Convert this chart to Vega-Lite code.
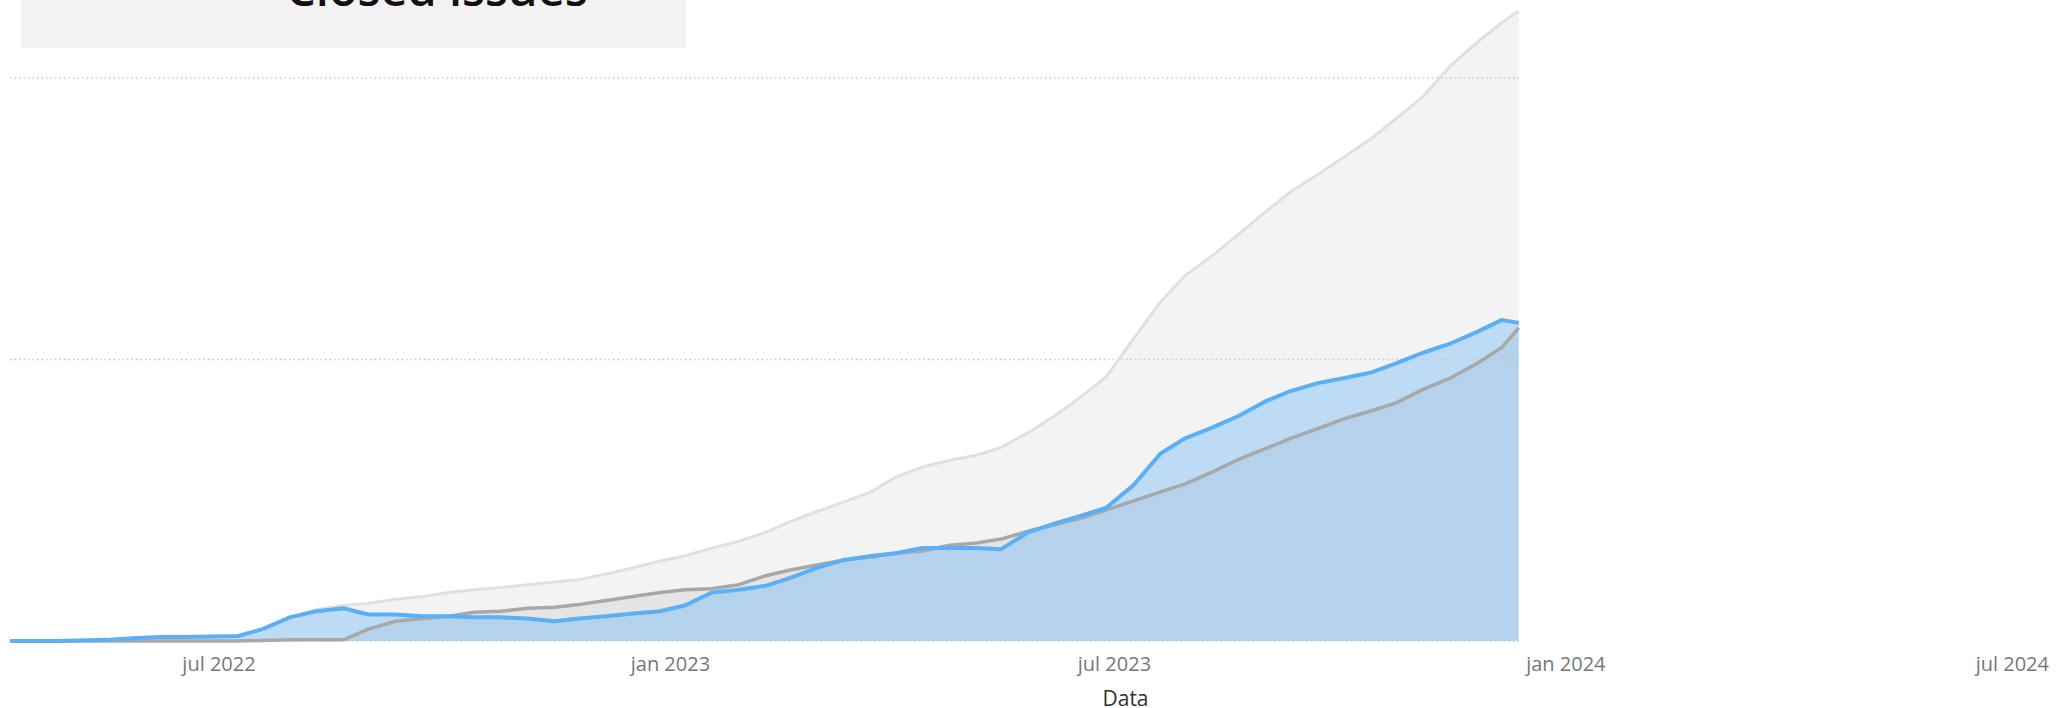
{
  "$schema": "https://vega.github.io/schema/vega-lite/v6.json",
  "width": 2046,
  "height": 641,
  "autosize": {"type": "none"},
  "padding": {"left": 10, "top": 0, "right": 0, "bottom": 67},
  "background": "white",
  "title": {
    "text": "Closed issues",
    "anchor": "start",
    "frame": "group",
    "dx": 276,
    "dy": 20,
    "fontSize": 47,
    "font": "Open Sans",
    "fontWeight": 600,
    "color": "#111111"
  },
  "config": {
    "view": {"stroke": null},
    "axisX": {
      "grid": false,
      "domain": false,
      "ticks": false,
      "labelFont": "Open Sans",
      "labelFontSize": 20,
      "labelColor": "#777777",
      "labelPadding": 13,
      "titleFont": "Open Sans",
      "titleFontSize": 21,
      "titleFontWeight": "normal",
      "titleColor": "#333333",
      "titlePadding": 14
    }
  },
  "data": {
    "values": [
      {"date": "2022-04-07", "opened": 0, "closed": 0, "resolved": 0},
      {"date": "2022-04-14", "opened": 0, "closed": 0, "resolved": 0},
      {"date": "2022-04-25", "opened": 0, "closed": 0, "resolved": 0},
      {"date": "2022-05-05", "opened": 0, "closed": 1, "resolved": 0},
      {"date": "2022-05-16", "opened": 2, "closed": 2, "resolved": 0},
      {"date": "2022-05-27", "opened": 2, "closed": 5, "resolved": 0},
      {"date": "2022-06-07", "opened": 3, "closed": 7, "resolved": 0},
      {"date": "2022-06-17", "opened": 5, "closed": 7, "resolved": 0},
      {"date": "2022-06-28", "opened": 7, "closed": 8, "resolved": 0},
      {"date": "2022-07-09", "opened": 9, "closed": 9, "resolved": 0},
      {"date": "2022-07-19", "opened": 19, "closed": 21, "resolved": 1},
      {"date": "2022-07-30", "opened": 42, "closed": 42, "resolved": 2},
      {"date": "2022-08-10", "opened": 56, "closed": 53, "resolved": 2},
      {"date": "2022-08-21", "opened": 63, "closed": 58, "resolved": 2},
      {"date": "2022-08-31", "opened": 67, "closed": 47, "resolved": 21},
      {"date": "2022-09-11", "opened": 74, "closed": 47, "resolved": 35},
      {"date": "2022-09-22", "opened": 79, "closed": 44, "resolved": 40},
      {"date": "2022-10-03", "opened": 86, "closed": 44, "resolved": 44},
      {"date": "2022-10-13", "opened": 91, "closed": 42, "resolved": 51},
      {"date": "2022-10-24", "opened": 95, "closed": 42, "resolved": 53},
      {"date": "2022-11-04", "opened": 100, "closed": 40, "resolved": 58},
      {"date": "2022-11-15", "opened": 105, "closed": 35, "resolved": 60},
      {"date": "2022-11-25", "opened": 109, "closed": 40, "resolved": 65},
      {"date": "2022-12-06", "opened": 119, "closed": 44, "resolved": 72},
      {"date": "2022-12-17", "opened": 130, "closed": 49, "resolved": 79},
      {"date": "2022-12-28", "opened": 142, "closed": 53, "resolved": 86},
      {"date": "2023-01-07", "opened": 151, "closed": 63, "resolved": 91},
      {"date": "2023-01-18", "opened": 165, "closed": 86, "resolved": 93},
      {"date": "2023-01-29", "opened": 177, "closed": 91, "resolved": 100},
      {"date": "2023-02-09", "opened": 193, "closed": 98, "resolved": 116},
      {"date": "2023-02-19", "opened": 212, "closed": 112, "resolved": 126},
      {"date": "2023-03-02", "opened": 230, "closed": 130, "resolved": 135},
      {"date": "2023-03-13", "opened": 247, "closed": 144, "resolved": 144},
      {"date": "2023-03-24", "opened": 265, "closed": 151, "resolved": 149},
      {"date": "2023-04-03", "opened": 291, "closed": 156, "resolved": 156},
      {"date": "2023-04-14", "opened": 309, "closed": 165, "resolved": 160},
      {"date": "2023-04-25", "opened": 321, "closed": 165, "resolved": 170},
      {"date": "2023-05-06", "opened": 330, "closed": 165, "resolved": 174},
      {"date": "2023-05-16", "opened": 344, "closed": 163, "resolved": 181},
      {"date": "2023-05-27", "opened": 370, "closed": 193, "resolved": 195},
      {"date": "2023-06-07", "opened": 400, "closed": 209, "resolved": 207},
      {"date": "2023-06-18", "opened": 435, "closed": 223, "resolved": 219},
      {"date": "2023-06-28", "opened": 470, "closed": 237, "resolved": 233},
      {"date": "2023-07-09", "opened": 537, "closed": 277, "resolved": 249},
      {"date": "2023-07-20", "opened": 602, "closed": 333, "resolved": 265},
      {"date": "2023-07-30", "opened": 649, "closed": 360, "resolved": 279},
      {"date": "2023-08-10", "opened": 684, "closed": 379, "resolved": 300},
      {"date": "2023-08-21", "opened": 723, "closed": 400, "resolved": 323},
      {"date": "2023-09-01", "opened": 763, "closed": 426, "resolved": 342},
      {"date": "2023-09-11", "opened": 798, "closed": 444, "resolved": 360},
      {"date": "2023-09-22", "opened": 828, "closed": 458, "resolved": 377},
      {"date": "2023-10-03", "opened": 860, "closed": 467, "resolved": 395},
      {"date": "2023-10-14", "opened": 893, "closed": 477, "resolved": 409},
      {"date": "2023-10-24", "opened": 928, "closed": 493, "resolved": 423},
      {"date": "2023-11-04", "opened": 967, "closed": 512, "resolved": 447},
      {"date": "2023-11-15", "opened": 1021, "closed": 528, "resolved": 467},
      {"date": "2023-11-26", "opened": 1063, "closed": 549, "resolved": 493},
      {"date": "2023-12-06", "opened": 1098, "closed": 570, "resolved": 521},
      {"date": "2023-12-13", "opened": 1119, "closed": 565, "resolved": 556}
    ]
  },
  "layer": [
    {
      "data": {"values": [{"box": "title"}]},
      "mark": {"type": "rect", "color": "#f2f2f2", "opacity": 1},
      "encoding": {
        "x": {"datum": {"year": 2022, "month": 4, "date": 11, "hours": 12, "utc": true}, "type": "temporal", "title": "Data"},
        "x2": {"datum": {"year": 2023, "month": 1, "date": 7, "hours": 12, "utc": true}},
        "y": {"datum": 1053, "type": "quantitative", "axis": null},
        "y2": {"datum": 1138.5}
      }
    },
    {
      "mark": {"type": "area", "color": "#bfbfbf", "opacity": 0.18},
      "encoding": {
        "x": {
          "field": "date",
          "type": "temporal",
          "title": "Data",
          "scale": {
            "type": "utc",
            "domain": [
              {"year": 2022, "month": 4, "date": 7, "utc": true},
              {"year": 2024, "month": 7, "date": 19, "utc": true}
            ]
          },
          "axis": {
            "values": [
              {"year": 2022, "month": 7, "date": 1, "utc": true},
              {"year": 2023, "month": 1, "date": 1, "utc": true},
              {"year": 2023, "month": 7, "date": 1, "utc": true},
              {"year": 2024, "month": 1, "date": 1, "utc": true},
              {"year": 2024, "month": 7, "date": 1, "utc": true}
            ],
            "labelExpr": "lower(utcFormat(datum.value, '%b %Y'))",
            "grid": false,
            "domain": false,
            "ticks": false,
            "titleX": 1115
          }
        },
        "y": {"field": "opened", "type": "quantitative", "scale": {"domain": [0, 1138.5], "nice": false, "zero": true}, "axis": null}
      }
    },
    {
      "mark": {"type": "area", "color": "#9a9a9a", "opacity": 0.15},
      "encoding": {
        "x": {"field": "date", "type": "temporal", "title": "Data"},
        "y": {"field": "resolved", "type": "quantitative", "axis": null}
      }
    },
    {
      "mark": {"type": "area", "color": "#46a5ff", "opacity": 0.3},
      "encoding": {
        "x": {"field": "date", "type": "temporal", "title": "Data"},
        "y": {"field": "closed", "type": "quantitative", "axis": null}
      }
    },
    {
      "mark": {"type": "rule", "color": "#c8c8c8", "strokeWidth": 1.5, "strokeDash": [1.5, 3]},
      "encoding": {
        "x": {"aggregate": "min", "field": "date", "type": "temporal", "title": "Data"},
        "x2": {"aggregate": "max", "field": "date"},
        "y": {"datum": 0, "type": "quantitative", "axis": null}
      }
    },
    {
      "mark": {"type": "rule", "color": "#c8c8c8", "strokeWidth": 1.5, "strokeDash": [1.5, 3]},
      "encoding": {
        "x": {"aggregate": "min", "field": "date", "type": "temporal", "title": "Data"},
        "x2": {"aggregate": "max", "field": "date"},
        "y": {"datum": 500, "type": "quantitative", "axis": null}
      }
    },
    {
      "mark": {"type": "rule", "color": "#c8c8c8", "strokeWidth": 1.5, "strokeDash": [1.5, 3]},
      "encoding": {
        "x": {"aggregate": "min", "field": "date", "type": "temporal", "title": "Data"},
        "x2": {"aggregate": "max", "field": "date"},
        "y": {"datum": 1000, "type": "quantitative", "axis": null}
      }
    },
    {
      "mark": {"type": "line", "color": "#e0e0e0", "strokeWidth": 3},
      "encoding": {
        "x": {"field": "date", "type": "temporal", "title": "Data"},
        "y": {"field": "opened", "type": "quantitative", "axis": null}
      }
    },
    {
      "mark": {"type": "line", "color": "#a8a8a8", "strokeWidth": 3.5},
      "encoding": {
        "x": {"field": "date", "type": "temporal", "title": "Data"},
        "y": {"field": "resolved", "type": "quantitative", "axis": null}
      }
    },
    {
      "mark": {"type": "line", "color": "#5aaff5", "strokeWidth": 4},
      "encoding": {
        "x": {"field": "date", "type": "temporal", "title": "Data"},
        "y": {"field": "closed", "type": "quantitative", "axis": null}
      }
    }
  ]
}
